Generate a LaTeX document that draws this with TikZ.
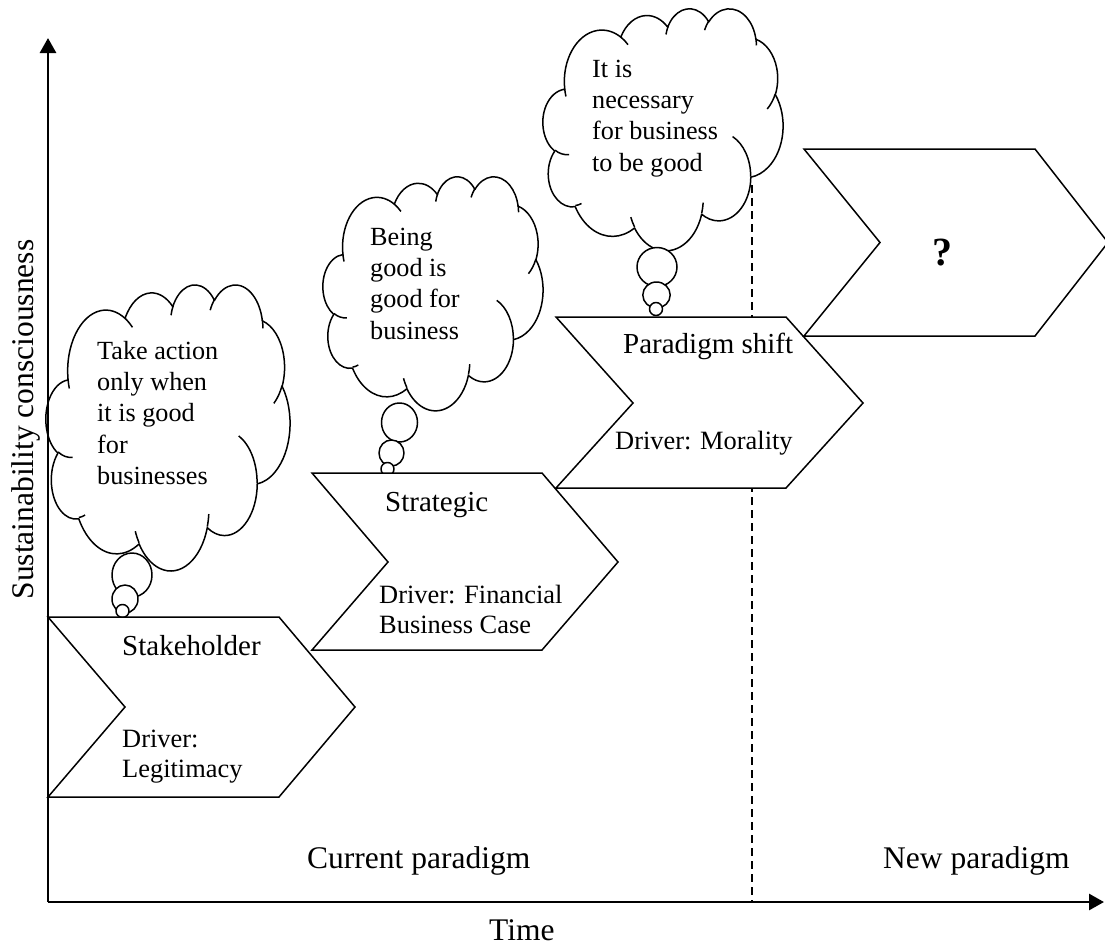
\documentclass[tikz,border=0pt]{standalone}
\usepackage{fontspec}
\setmainfont{Liberation Serif}
\usetikzlibrary{arrows.meta}
\newcommand{\mlines}[1]{\begin{tabular}[t]{@{}l@{}}#1\end{tabular}}
\newcommand{\thoughtcloud}[4]{%
 \begin{scope}[shift={(#1,#2)}, xscale=#3, yscale=#4]
  \draw[outl, fill=white] (390,1437)
    arc[start angle=172.25, delta angle=128.09, x radius=675.3, y radius=919.0]
    arc[start angle=-152.02, delta angle=106.57, x radius=533.3, y radius=726.7]
    arc[start angle=-153.49, delta angle=116.18, x radius=436.5, y radius=594.5]
    arc[start angle=-139.72, delta angle=129.50, x radius=485.7, y radius=659.5]
    arc[start angle=-74.77, delta angle=97.98, x radius=533.3, y radius=727.3]
    arc[start angle=-37.54, delta angle=119.40, x radius=677.5, y radius=922.0]
    arc[start angle=0.46, delta angle=121.52, x radius=578.5, y radius=786.7]
    arc[start angle=16.84, delta angle=129.39, x radius=675.2, y radius=921.5]
    arc[start angle=58.98, delta angle=91.20, x radius=772.0, y radius=1054.3]
    arc[start angle=83.31, delta angle=139.81, x radius=436.0, y radius=591.8]
    arc[start angle=120.36, delta angle=143.75, x radius=434.5, y radius=594.5]
    -- cycle;
  \draw[outl] (469.3,2617.7) arc[start angle=85.54, delta angle=34.82, x radius=434.5, y radius=594.5]
    (692.8,3489.9) arc[start angle=68.25, delta angle=15.06, x radius=436.0, y radius=591.8]
    (1647.8,3909.0) arc[start angle=146.23, delta angle=12.24, x radius=675.2, y radius=921.5]
    (2882.7,3475.1) arc[start angle=4.74, delta angle=12.10, x radius=675.2, y radius=921.5]
    (3412.9,2295.4) arc[start angle=-64.02, delta angle=64.48, x radius=578.5, y radius=786.7]
    (4179.8,1535.4) arc[start angle=23.21, delta angle=26.42, x radius=533.3, y radius=727.3]
    (3832.4,542.6) arc[start angle=-10.22, delta angle=11.05, x radius=485.7, y radius=659.5]
    (2907.8,395.2) arc[start angle=-156.29, delta angle=16.57, x radius=485.7, y radius=659.5]
    (2214.1,472.0) arc[start angle=-167.72, delta angle=14.23, x radius=436.5, y radius=594.5]
    (1400.0,519.2) arc[start angle=-59.66, delta angle=13.93, x radius=675.3, y radius=919.0]
    (412.7,1578.9) arc[start angle=163.19, delta angle=9.06, x radius=675.3, y radius=919.0];
 \end{scope}}
\begin{document}
\begin{tikzpicture}[x=1pt, y=-1pt,
  outl/.style={line width=1.5pt, line join=round},
  chev/.style={line width=1.5pt, fill=white, line join=miter},
  axisline/.style={line width=2.8pt, -{Triangle[length=15pt,width=16pt]}},
  sep/.style={line width=1.3pt, dash pattern=on 8pt off 5pt},
  chevtxt/.style={inner sep=0pt, anchor=base west, font=\fontsize{29}{30}\selectfont},
  drvtxt/.style={inner sep=0pt, anchor=base west, font=\fontsize{26.4}{30}\selectfont},
  cloudtxt/.style={inner sep=0pt, anchor=base west, font=\fontsize{26.2}{31.4}\selectfont},
  axtxt/.style={inner sep=0pt, font=\fontsize{31.5}{34}\selectfont}]
\useasboundingbox (0,0) rectangle (1105,945);
\coordinate (O) at (48,902);
\coordinate (ytop) at (48,38);
\coordinate (xend) at (1104,902);
\coordinate (dtop) at (752,185);
\coordinate (dbot) at (752,902);
% paradigm separator
\draw[sep] (dtop) -- (dbot);
% thought clouds
\thoughtcloud{46}{284}{0.05648}{0.06620}
\draw[outl, fill=white] (132,575) ellipse [x radius=20, y radius=22];
\draw[outl, fill=white] (125,599) ellipse [x radius=13, y radius=14];
\draw[outl, fill=white] (122.5,611) ellipse [x radius=6.5, y radius=6.5];
\thoughtcloud{323}{176}{0.050926}{0.054167}
\draw[outl, fill=white] (399.5,422.5) ellipse [x radius=18, y radius=19.5];
\draw[outl, fill=white] (391.5,453) ellipse [x radius=12.5, y radius=13];
\draw[outl, fill=white] (387.5,469) ellipse [x radius=6.5, y radius=6.5];
\thoughtcloud{543}{8}{0.055556}{0.056019}
\draw[outl, fill=white] (657,267) ellipse [x radius=20, y radius=19.5];
\draw[outl, fill=white] (656.5,295) ellipse [x radius=13.7, y radius=13];
\draw[outl, fill=white] (656,309) ellipse [x radius=6.5, y radius=6.5];
% chevrons
\draw[chev] (48,617) -- (279,617) -- (355,707) -- (279,797) -- (48,797) -- (125,707) -- cycle;
\draw[chev] (312,473) -- (542,473) -- (618,562) -- (542,650) -- (312,650) -- (388,562) -- cycle;
\draw[chev] (556,317) -- (786,317) -- (863,403) -- (786,488) -- (556,488) -- (633,403) -- cycle;
\draw[chev] (804,149) -- (1035,149) -- (1108,242.5) -- (1035,336) -- (804,336) -- (880,242.5) -- cycle;
% cloud texts
\node[cloudtxt] (t1) at (97,359) {\mlines{Take action\\only when\\it is good\\for\\businesses}};
\node[cloudtxt] (t2) at (370,245) {\mlines{Being\\good is\\good for\\business}};
\node[cloudtxt] (t3) at (592,77) {\mlines{It is\\necessary\\for business\\to be good}};
% chevron texts
\node[chevtxt] (s1) at (122,655) {Stakeholder};
\node[drvtxt] (d1) at (122,747) {\mlines{Driver:\\Legitimacy}};
\node[chevtxt] (s2) at (385,511) {Strategic};
\node[drvtxt] (d2) at (379,603) {\mlines{Driver: Financial\\Business Case}};
\node[chevtxt] (s3) at (623,353) {Paradigm shift};
\node[drvtxt] (d3) at (615,449) {Driver: Morality};
\node[inner sep=0pt, anchor=base, font=\fontsize{40}{44}\selectfont\bfseries] (q) at (942,265) {?};
% axes
\draw[axisline] (O) -- (ytop);
\draw[axisline] (O) -- (xend);
\node[axtxt, rotate=90, anchor=base] (ylab) at (33,419.5) {Sustainability consciousness};
\node[axtxt, anchor=base west] (cur) at (307,868) {Current paradigm};
\node[axtxt, anchor=base west] (new) at (883,868) {New paradigm};
\node[axtxt, anchor=base west] (time) at (489,940) {Time};
\end{tikzpicture}
\end{document}
